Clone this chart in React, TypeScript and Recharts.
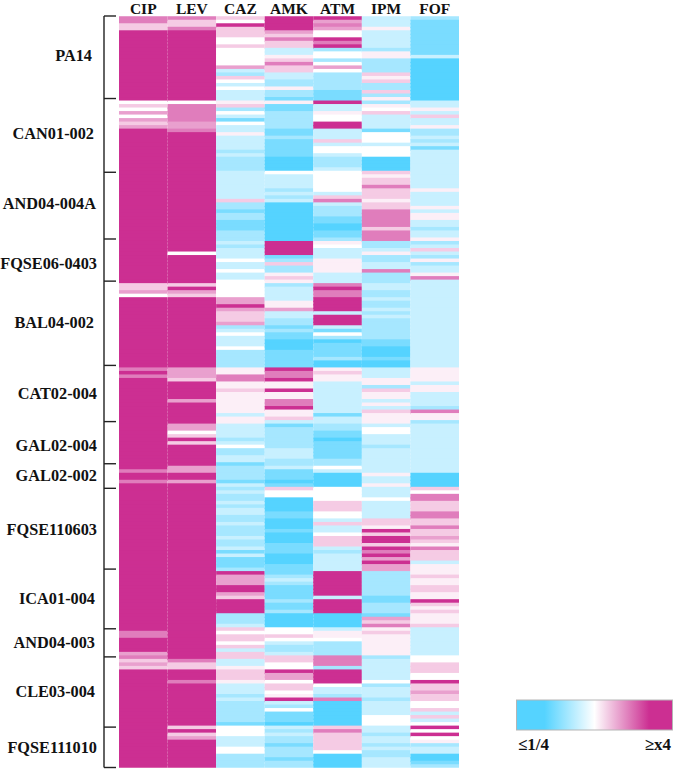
import React from "react";
import { Bar, BarChart, Cell, XAxis, YAxis } from "recharts";

type Run = [number, number];

// each antibiotic column is a list of [shade, number of strains], top to bottom
const CIP: Run[] = [
  [8,2],[6,2],[9,20],[4,1],[6,1],[4,1],[7,1],[4,1],[7,1],[6,1],[7,1],
  [9,44],[6,2],[7,1],[4,1],[9,20],[8,1],[9,1],[8,1],[9,26],[8,1],[9,2],[8,1],
  [9,42],[8,2],[9,4],[7,1],[8,1],[6,1],[7,1],[6,1],[9,28],
];
const LEV: Run[] = [
  [8,1],[6,2],[8,1],[9,20],[4,1],[8,5],[7,2],[8,1],
  [9,34],[4,1],[9,8],[6,1],[9,1],[7,1],[6,1],[9,20],[7,3],[6,1],[9,5],[7,1],[9,6],
  [7,2],[4,1],[6,1],[9,1],[6,1],[9,6],[7,2],[9,2],[7,1],
  [9,50],[8,1],[6,2],[9,3],[8,1],[9,12],[6,1],[9,1],[6,1],[7,1],[9,8],
];
const CAZ: Run[] = [
  [6,1],[4,1],[9,1],[6,3],[4,2],[6,1],[4,5],[7,1],[3,1],[2,1],[6,1],[4,1],[3,1],[4,1],[3,3],[5,1],[6,1],[2,1],[4,1],[3,1],[1,1],[4,1],[3,2],[5,1],
  [3,4],[2,1],[3,1],[2,4],[3,8],[6,1],[2,2],[1,1],[2,2],[1,3],[2,3],[3,1],[2,1],[3,3],[4,1],[3,1],
  [3,1],[4,1],[3,2],[4,5],[7,2],[9,1],[7,1],[6,3],[7,1],[2,1],[3,1],[4,1],[3,3],[4,1],[2,5],[5,2],[8,2],[5,2],[6,1],[5,1],
  [5,5],[3,1],[5,2],[3,4],[2,1],[3,1],[4,1],[2,2],[3,2],[1,1],[2,4],[1,1],[3,1],[2,1],[3,1],[2,2],[3,1],[2,1],[3,2],[2,2],[3,1],
  [2,3],[3,1],[2,2],[3,1],[1,1],[3,1],[1,3],[2,1],[9,1],[7,3],[9,2],[7,1],[6,1],[9,4],[2,3],[3,1],[6,1],[4,1],[6,2],[4,1],[6,1],[3,1],
  [6,2],[3,2],[5,1],[6,3],[5,1],[3,3],[2,1],[3,1],[2,6],[1,1],[4,3],[3,3],[4,2],[2,4],
];
const AMK: Run[] = [
  [9,4],[7,1],[6,1],[8,1],[6,2],[3,2],[5,1],[6,1],[8,1],[6,2],[3,2],[2,2],[5,1],[2,2],[1,1],[5,1],[1,2],[2,5],[1,2],
  [2,1],[1,5],[0,4],[4,1],[3,4],[2,1],[3,1],[2,1],[3,1],[0,11],[9,4],[1,1],[2,1],[6,1],
  [2,2],[5,1],[6,1],[5,1],[2,1],[3,4],[5,2],[7,1],[3,2],[2,2],[1,1],[2,1],[1,2],[0,3],[1,5],[9,1],[8,2],[9,1],[5,2],[9,1],[5,1],
  [5,1],[8,2],[9,1],[5,2],[6,1],[3,1],[1,1],[2,6],[3,3],[2,2],[3,1],[1,3],[0,1],[1,1],[6,1],[4,2],[0,4],[1,2],[0,2],
  [0,1],[1,1],[0,3],[1,3],[0,3],[1,3],[2,1],[3,1],[2,1],[1,4],[2,1],[1,2],[2,1],[0,4],[4,2],[6,1],[4,1],[3,1],[2,2],
  [3,1],[6,2],[4,2],[9,1],[7,2],[4,1],[6,2],[4,1],[5,1],[9,1],[3,1],[2,1],[4,1],[1,3],[0,1],[3,1],[2,1],[3,1],[2,2],[1,1],[2,3],[1,1],[2,2],
];
const ATM: Run[] = [
  [9,1],[7,1],[8,1],[7,1],[4,2],[9,1],[8,1],[9,1],[2,1],[4,2],[2,1],[4,1],[7,1],[4,1],[2,5],[1,3],[9,1],[3,2],[5,1],[4,2],[9,2],[3,2],
  [3,1],[6,1],[3,1],[4,2],[3,1],[2,3],[3,1],[4,6],[3,1],[6,1],[8,1],[3,1],[2,3],[1,2],[0,2],[1,2],[2,1],[5,1],[4,1],[3,3],[5,2],
  [5,2],[3,3],[8,1],[9,1],[8,2],[9,4],[3,1],[9,3],[3,1],[1,1],[4,1],[2,1],[0,1],[1,4],[2,1],[0,2],[5,1],[6,1],[5,2],
  [3,9],[1,1],[3,2],[2,2],[1,2],[0,1],[1,5],[2,2],[4,1],[3,1],[0,4],[4,4],[6,3],[4,2],[3,1],[6,1],
  [3,2],[4,1],[6,3],[3,1],[2,1],[3,5],[9,7],[3,1],[9,4],[0,4],[3,1],[5,2],[4,1],[2,3],
  [2,1],[8,3],[2,1],[9,4],[4,1],[3,2],[2,1],[8,1],[0,7],[6,1],[8,1],[6,5],[4,1],[0,4],
];
const IPM: Run[] = [
  [3,3],[5,1],[3,5],[2,1],[5,2],[2,4],[6,1],[5,1],[6,1],[2,2],[6,1],[2,1],[5,1],[2,1],[5,1],[4,1],[6,1],[3,1],[3,3],[1,1],
  [4,3],[3,1],[4,3],[0,4],[6,1],[5,1],[6,2],[8,1],[6,3],[5,1],[6,2],[8,5],[6,1],[8,3],[2,2],[3,1],[5,1],[2,2],[3,1],
  [3,1],[8,1],[2,3],[3,2],[2,2],[3,1],[2,2],[3,1],[2,1],[3,1],[2,6],[1,2],[0,3],[1,1],[0,2],[3,3],[5,2],[2,1],[6,1],[5,1],
  [5,1],[3,1],[5,1],[3,1],[6,1],[5,3],[3,1],[4,2],[3,3],[2,1],[3,7],[5,1],[3,2],[5,1],[3,3],[4,1],[3,5],[6,2],
  [5,1],[9,1],[6,1],[9,2],[6,1],[9,1],[8,1],[9,1],[7,1],[9,1],[7,2],[2,7],[1,2],[2,3],[1,1],[7,1],[6,1],[8,1],[5,1],[6,1],[5,5],
  [5,1],[2,1],[3,6],[4,1],[2,1],[3,3],[2,1],[3,4],[4,3],[3,2],[2,1],[3,2],[2,1],[3,1],[2,2],[3,3],
];
const FOF: Run[] = [
  [2,1],[1,10],[3,1],[0,12],[3,2],[5,1],[3,1],[6,1],[3,2],[5,1],[2,1],
  [2,1],[3,1],[2,1],[3,1],[1,1],[3,11],[5,1],[3,4],[5,1],[3,1],[5,2],[3,2],[2,1],[3,2],[5,1],[2,1],[3,1],[6,1],[3,1],[2,1],[5,1],[2,1],
  [3,2],[5,1],[8,1],[3,25],[5,4],[3,1],[5,2],[3,1],
  [3,3],[2,1],[8,1],[5,2],[2,1],[3,14],[0,4],[6,1],[4,1],[8,2],[6,3],[8,2],[6,2],
  [8,1],[6,2],[7,1],[6,1],[5,1],[8,1],[6,3],[3,1],[5,3],[6,1],[5,2],[6,2],[5,2],[9,1],[6,1],[5,1],[6,1],[5,3],[6,1],[3,7],
  [3,1],[4,2],[6,3],[4,2],[9,1],[6,2],[7,1],[6,2],[4,2],[6,1],[3,1],[6,1],[3,1],[4,1],[9,1],[4,1],[9,1],[4,1],[5,1],[2,1],[3,2],[0,2],[1,1],[2,1],
];

const DRUGS = ["CIP", "LEV", "CAZ", "AMK", "ATM", "IPM", "FOF"];
const COLUMNS = [CIP, LEV, CAZ, AMK, ATM, IPM, FOF];

const STRAINS = ["PA14", "CAN01-002", "AND04-004A", "FQSE06-0403", "BAL04-002", "CAT02-004", "GAL02-004", "GAL02-002", "FQSE110603", "ICA01-004", "AND04-003", "CLE03-004", "FQSE111010"];
const STRAIN_ROWS = [11, 33, 53, 70, 87, 107, 122, 131, 146, 166, 178, 192, 208];
const STRAIN_RIGHT = [92, 94, 96, 97, 94, 97, 97, 97, 97, 95, 95, 95, 97];
const BRACKET_ROWS = [0, 23, 44, 63, 75, 99, 115, 127, 134, 157, 174, 182, 202, 213];

// shade 0 (<=1/4) .. 4 (no change) .. 9 (>=x4)
const SHADES = ["#55D3FF", "#7ADCFF", "#A6E7FF", "#C8F0FF", "#FFFFFF", "#FCEFF7", "#F5CBE4", "#E9A0CE", "#E07DBC", "#CC2F92"];

const ROW_COUNT = 214;
const FONT = "'Liberation Serif', 'Times New Roman', serif";

const expand = (runs: Run[]) => runs.flatMap(([shade, n]) => Array(n).fill(shade) as number[]);
const columns = COLUMNS.map(expand);
const rows = Array.from({ length: ROW_COUNT }, (_, row) => ({ row }));

const ROW_H = (767.5 - 16) / ROW_COUNT;

const StrainTick = (props: any) => {
  const { y, payload } = props;
  const row = payload.value;
  const label = STRAIN_ROWS.indexOf(row);
  // the first and last brackets sit on the outer edge of their row
  const tickY = row === 0 ? y - ROW_H / 2 : row === ROW_COUNT - 1 ? y + ROW_H / 2 : y;
  const nudge = row === 131 || row === 166 ? 3 : 5;
  return (
    <g>
      {label >= 0 && (
        <text x={STRAIN_RIGHT[label]} y={y + nudge} textAnchor="end" fontFamily={FONT} fontWeight="bold" fontSize={16.3} fill="#111">
          {STRAINS[label]}
        </text>
      )}
      {BRACKET_ROWS.includes(row) && <line x1={104} x2={116} y1={tickY} y2={tickY} stroke="#222" strokeWidth={1.4} />}
      {row === 0 && <line x1={104} x2={104} y1={tickY} y2={tickY + ROW_COUNT * ROW_H} stroke="#222" strokeWidth={1.4} />}
    </g>
  );
};

const DrugTick = (props: any) => {
  const { x, payload } = props;
  return (
    <text x={x} y={14} textAnchor="middle" fontFamily={FONT} fontWeight="bold" fontSize={15.5} fill="#111">
      {DRUGS[Math.floor(payload.value)]}
    </text>
  );
};

// each row runs a bit under the next one so no white seam shows between rows of one shade
const HeatCell = (props: any) => {
  const { x, y, width, height, fill, index } = props;
  const top = y + height / 2 - ROW_H / 2;
  return <rect x={x} y={top} width={width} height={index === ROW_COUNT - 1 ? ROW_H : ROW_H + 1.2} fill={fill} />;
};

const App = () => {
  return (
    <div style={{ position: "absolute", left: 0, top: 0, width: 675, height: 772, background: "#fff" }}>
      <BarChart
        width={675}
        height={772}
        data={rows}
        layout="vertical"
        barCategoryGap={0}
        barGap={0}
        margin={{ top: 0, right: 216, bottom: 4.5, left: 0 }}
      >
        <XAxis
          type="number"
          orientation="top"
          domain={[0, 7]}
          ticks={[0.5, 1.5, 2.5, 3.5, 4.5, 5.5, 6.5]}
          interval={0}
          height={16}
          axisLine={false}
          tickLine={false}
          tick={<DrugTick />}
        />
        <YAxis
          type="category"
          dataKey="row"
          width={119}
          ticks={[...new Set([...STRAIN_ROWS, ...BRACKET_ROWS])]}
          interval={0}
          axisLine={false}
          tickLine={false}
          tick={<StrainTick />}
        />
        {DRUGS.map((drug, c) => (
          <Bar key={drug} dataKey={() => 1} name={drug} stackId="heat" shape={<HeatCell />} isAnimationActive={false}>
            {rows.map((r) => (
              <Cell key={r.row} fill={SHADES[columns[c][r.row]]} />
            ))}
          </Bar>
        ))}
      </BarChart>

      {/* colour key */}
      <svg width={675} height={772} style={{ position: "absolute", left: 0, top: 0, pointerEvents: "none" }}>
        <defs>
          <linearGradient id="key" x1="0" y1="0" x2="1" y2="0">
            <stop offset="0.18" stopColor="#55D3FF" />
            <stop offset="0.5" stopColor="#FFFFFF" />
            <stop offset="0.85" stopColor="#CC2F92" />
          </linearGradient>
        </defs>
        <rect x={516.5} y={700} width={156} height={30} fill="url(#key)" stroke="#B5B5B5" />
        <text x={518} y={750} fontFamily={FONT} fontWeight="bold" fontSize={17} fill="#111">≤1/4</text>
        <text x={671} y={750} textAnchor="end" fontFamily={FONT} fontWeight="bold" fontSize={17} fill="#111">≥x4</text>
      </svg>
    </div>
  );
};

export default App;
